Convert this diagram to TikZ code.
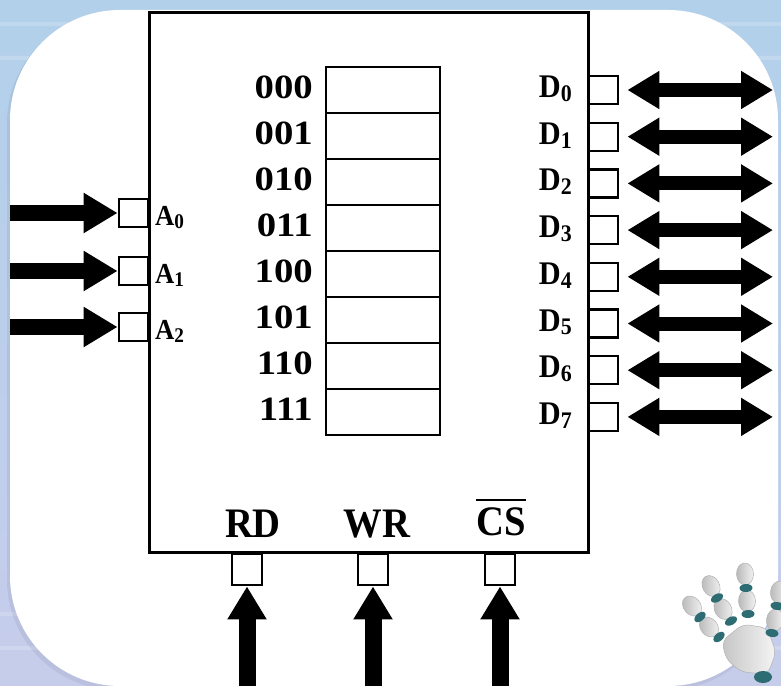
\documentclass[tikz,border=0pt]{standalone}
\usepackage{fontspec}
\usepackage{graphicx}
\setmainfont{Liberation Serif}
\newfontfamily\digitfont{Liberation Serif}[FakeStretch=1.14]
\newfontfamily\capfont{Liberation Serif}[FakeStretch=0.92]
\usetikzlibrary{arrows.meta}

\definecolor{bgtop}{HTML}{B2D0EA}
\definecolor{bgbot}{HTML}{C6CDEB}
\definecolor{joint}{HTML}{2E6C74}

% subscript index of a pin name
\newcommand\pinsub[1]{\raisebox{-0.12em}{\scalebox{0.72}{#1}}}

\begin{document}
\begin{tikzpicture}[x=1pt,y=-1pt,
  chipbox/.style={draw, line width=3pt, minimum width=439pt, minimum height=539pt, inner sep=0pt},
  cell/.style={draw, line width=2.4pt, minimum width=114pt, minimum height=46pt, inner sep=0pt},
  pin/.style={draw, fill=white, line width=2.4pt, minimum width=29pt, minimum height=28pt, inner sep=0pt},
  addrlbl/.style={font=\digitfont\fontsize{34}{34}\selectfont\bfseries, inner sep=0pt, anchor=base east},
  alabel/.style={font=\capfont\fontsize{29}{29}\selectfont\bfseries, inner sep=0pt, anchor=base west},
  dlabel/.style={font=\capfont\fontsize{33}{33}\selectfont\bfseries, inner sep=0pt, anchor=base east},
  ctllabel/.style={font=\capfont\fontsize{42}{42}\selectfont\bfseries, inner sep=0pt, anchor=base},
  inarrow/.style={line width=16pt, -{Triangle[length=34pt,width=38pt]}},
  uparrow/.style={line width=17pt, -{Triangle[length=33pt,width=37pt]}},
  busarrow/.style={line width=14pt, {Triangle[length=32pt,width=36pt]}-{Triangle[length=32pt,width=36pt]}},
  finger/.style={left color=gray!55, right color=gray!10, draw=gray!60, line width=0.5pt},
]
\useasboundingbox (0,0) rectangle (781,685);

% slide background and card
\shade[top color=bgtop, bottom color=bgbot] (0,0) rectangle (781,685);
\foreach \y in {22,56,612,646} \fill[white, opacity=0.18] (0,\y) rectangle (781,\y+4);
\fill[black, opacity=0.06, rounded corners=110pt] (7,13) rectangle (777,690);
\fill[white, rounded corners=110pt] (10,10) rectangle (778,686);

% memory chip outline
\node[chipbox] (chip) at (368.5,282.5) {};

% storage cells with their addresses
\foreach \i/\t in {0/000,1/001,2/010,3/011,4/100,5/101,6/110,7/111} {
  \node[cell] (c\i) at (383,90+46*\i) {};
  \node[addrlbl] (m\i) at (313,98.5+46*\i) {\t};
}

% address inputs
\foreach \i/\y in {0/213,1/271,2/327} {
  \node[pin, anchor=east] (A\i) at (149,\y) {};
  \node[alabel] (al\i) at (155,\y+12) {A\pinsub{\i}};
  \coordinate (ain\i) at (10,\y);
  \draw[inarrow] (ain\i) -- (A\i.west);
}

% bidirectional data lines
\foreach \i in {0,...,7} {
  \node[pin, anchor=west] (D\i) at (588,90+46.7*\i) {};
  \node[dlabel] (dl\i) at (572,97.5+46.7*\i) {D\pinsub{\i}};
  \coordinate (dout\i) at (773,90+46.7*\i);
  \draw[busarrow] ([xshift=8pt]D\i.east) -- (dout\i);
}

% control inputs
\foreach \i/\x in {0/247,1/373,2/500} {
  \node[pin, anchor=north, minimum width=30pt, minimum height=31pt] (P\i) at (\x,553) {};
  \coordinate (pin\i) at (\x,690);
  \draw[uparrow] (pin\i) -- (P\i.south);
}
\node[ctllabel] (rd) at (253,537) {RD};
\node[ctllabel] (wr) at (377,537) {WR};
\node[ctllabel] (cs) at (501,535) {CS};
\draw[line width=2.6pt] ([yshift=7pt]cs.north west) -- ([yshift=7pt]cs.north east);

% robot hand in the corner
\foreach \x/\y/\a in {692/606/40, 709/627/40, 711/586/29, 723/609/29, 745/574/2, 747/601/2, 779/592/-8, 775/620/-8}
  \shade[finger] (\x,\y) ellipse [x radius=8.5pt, y radius=11pt, rotate=\a];
\foreach \x/\y/\a in {700/617/40, 717/598/29, 746/588/2, 777/606/-8}
  \fill[joint] (\x,\y) ellipse [x radius=6.5pt, y radius=4pt, rotate=\a];
\shade[left color=gray!45, right color=gray!8, draw=gray!60, line width=0.5pt, rounded corners=7pt]
  (722,641) -- (743,624) -- (767,628) -- (776,652) -- (768,674) -- (741,672) -- (726,659) -- cycle;
\foreach \x/\y/\a in {719/637/40, 731/621/29, 748/614/2, 772/633/-8}
  \fill[joint] (\x,\y) ellipse [x radius=6.5pt, y radius=4pt, rotate=\a];
\fill[joint] (763,677) ellipse [x radius=9pt, y radius=6pt];
\end{tikzpicture}
\end{document}
